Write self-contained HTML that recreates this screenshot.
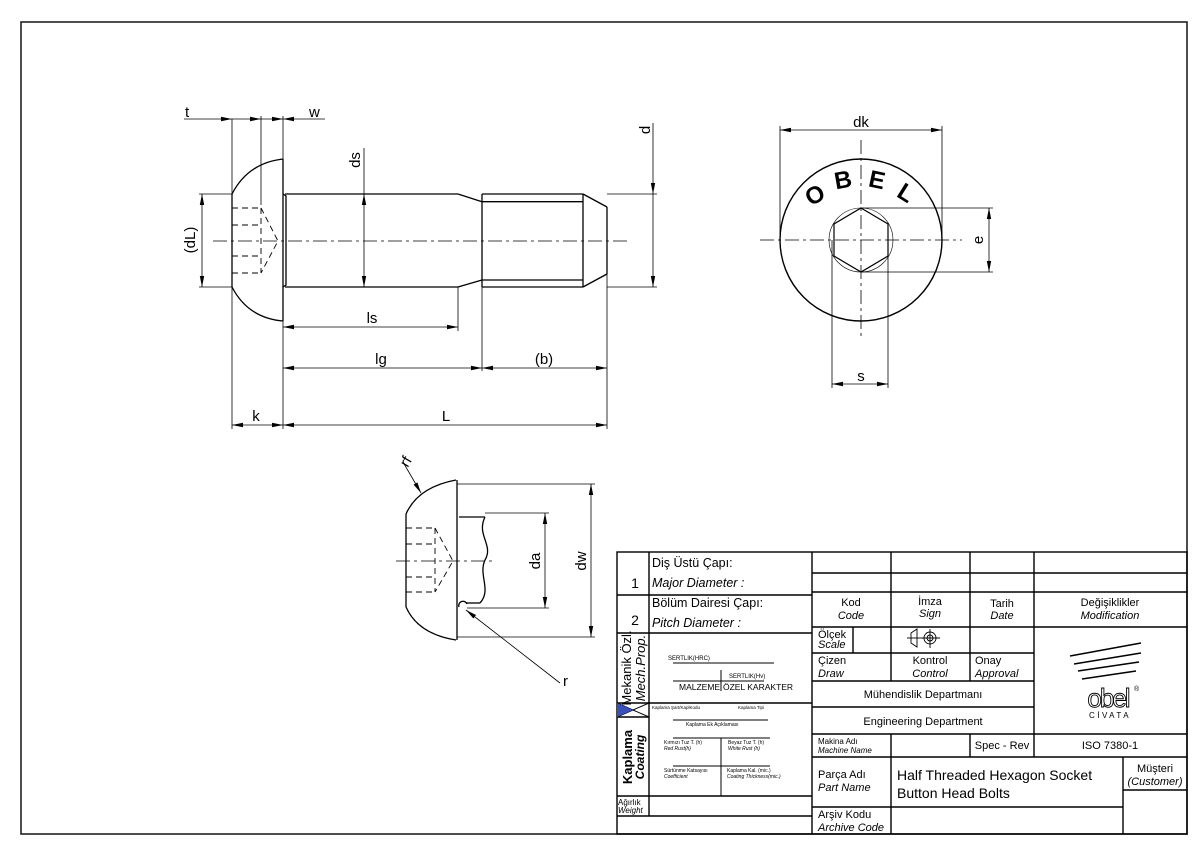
<!DOCTYPE html>
<html><head><meta charset="utf-8"><style>
html,body{margin:0;padding:0;background:#fff;}
svg{display:block;font-family:"Liberation Sans",sans-serif;}
</style></head><body>
<svg width="1200" height="849" viewBox="0 0 1200 849" xmlns="http://www.w3.org/2000/svg">
<defs>
<marker id="a" markerUnits="userSpaceOnUse" markerWidth="12" markerHeight="6" refX="11" refY="3" orient="auto-start-reverse"><path d="M0,0.8 L11,3 L0,5.2 Z" fill="#000"/></marker>
</defs>
<rect x="0" y="0" width="1200" height="849" fill="#fff"/>
<rect x="21" y="22" width="1166" height="812" fill="none" stroke="#222" stroke-width="1.6"/>

<!-- ============ SIDE VIEW ============ -->
<g stroke="#000" fill="none" stroke-width="1.3">
<path d="M232,194 Q248,163 283,159"/>
<path d="M232,287 Q248,318 283,321"/>
<line x1="232" y1="194" x2="232" y2="287"/>
<line x1="283" y1="159" x2="283" y2="321"/>
<path d="M283,194 L286,196 L286,285 L283,287"/>
<line x1="285" y1="194" x2="458" y2="194"/>
<line x1="285" y1="287" x2="458" y2="287"/>
<line x1="458" y1="194" x2="482" y2="201.7"/>
<line x1="458" y1="287" x2="482" y2="280"/>
<line x1="482" y1="194" x2="583" y2="194"/>
<line x1="482" y1="287" x2="583" y2="287"/>
<line x1="482" y1="201.7" x2="583" y2="201.7"/>
<line x1="482" y1="280" x2="583" y2="280"/>
<line x1="482" y1="194" x2="482" y2="287"/>
<line x1="583" y1="194" x2="583" y2="287"/>
<line x1="583" y1="194" x2="607" y2="207"/>
<line x1="583" y1="287" x2="607" y2="274"/>
<line x1="607" y1="207" x2="607" y2="274"/>
</g>
<g stroke="#000" fill="none" stroke-width="0.9" stroke-dasharray="6,4">
<line x1="232" y1="208" x2="261" y2="208"/>
<line x1="232" y1="225" x2="261" y2="225"/>
<line x1="232" y1="256" x2="261" y2="256"/>
<line x1="232" y1="273" x2="261" y2="273"/>
<line x1="261" y1="208" x2="261" y2="273"/>
<polyline points="261,208 278,241 261,273"/>
</g>
<line x1="213" y1="241" x2="627" y2="241" stroke="#000" stroke-width="0.8" stroke-dasharray="14,4,3,4"/>
<g stroke="#000" fill="none" stroke-width="0.8">
<line x1="232" y1="119" x2="232" y2="429"/>
<line x1="261" y1="116" x2="261" y2="205"/>
<line x1="283" y1="116" x2="283" y2="429"/>
<line x1="184" y1="119" x2="232" y2="119" marker-end="url(#a)"/>
<line x1="232" y1="119" x2="261" y2="119" marker-end="url(#a)"/>
<line x1="325" y1="119" x2="283" y2="119" marker-end="url(#a)"/>
<line x1="261" y1="119" x2="283" y2="119" marker-end="url(#a)"/>
<line x1="199" y1="194" x2="232" y2="194"/>
<line x1="199" y1="287" x2="232" y2="287"/>
<line x1="202" y1="194" x2="202" y2="287" marker-start="url(#a)" marker-end="url(#a)"/>
<line x1="364" y1="148" x2="364" y2="194"/>
<line x1="364" y1="194" x2="364" y2="287" marker-start="url(#a)" marker-end="url(#a)"/>
<line x1="607" y1="194" x2="657" y2="194"/>
<line x1="607" y1="287" x2="657" y2="287"/>
<line x1="653" y1="123" x2="653" y2="194" marker-end="url(#a)"/>
<line x1="653" y1="194" x2="653" y2="287" marker-end="url(#a)"/>
<line x1="458" y1="287" x2="458" y2="331"/>
<line x1="482" y1="287" x2="482" y2="371"/>
<line x1="607" y1="274" x2="607" y2="429"/>
<line x1="283" y1="327" x2="458" y2="327" marker-start="url(#a)" marker-end="url(#a)"/>
<line x1="283" y1="368" x2="482" y2="368" marker-start="url(#a)" marker-end="url(#a)"/>
<line x1="482" y1="368" x2="607" y2="368" marker-start="url(#a)" marker-end="url(#a)"/>
<line x1="232" y1="425" x2="283" y2="425" marker-start="url(#a)" marker-end="url(#a)"/>
<line x1="283" y1="425" x2="607" y2="425" marker-start="url(#a)" marker-end="url(#a)"/>
</g>
<g font-size="15" fill="#000">
<text x="185" y="117">t</text>
<text x="309" y="117">w</text>
<text x="195" y="240" transform="rotate(-90 195 240)" text-anchor="middle">(dL)</text>
<text x="360" y="160" transform="rotate(-90 360 160)" text-anchor="middle">ds</text>
<text x="650" y="130" transform="rotate(-90 650 130)" text-anchor="middle">d</text>
<text x="372" y="323" text-anchor="middle">ls</text>
<text x="381" y="364" text-anchor="middle">lg</text>
<text x="544" y="364" text-anchor="middle">(b)</text>
<text x="256" y="421" text-anchor="middle">k</text>
<text x="446" y="421" text-anchor="middle">L</text>
</g>

<!-- ============ END VIEW ============ -->
<g stroke="#000" fill="none">
<circle cx="861" cy="240" r="81" stroke-width="1.4"/>
<circle cx="861" cy="240" r="32" stroke-width="0.6"/>
<polygon points="861,208 888,224 888,256 861,272 834,256 834,224" stroke-width="1.2"/>
</g>
<g stroke="#000" stroke-width="0.8" stroke-dasharray="14,4,3,4">
<line x1="760" y1="240" x2="962" y2="240"/>
<line x1="861" y1="140" x2="861" y2="340"/>
</g>
<g stroke="#000" stroke-width="0.8" fill="none">
<line x1="780" y1="126" x2="780" y2="240"/>
<line x1="942" y1="126" x2="942" y2="240"/>
<line x1="780" y1="130" x2="942" y2="130" marker-start="url(#a)" marker-end="url(#a)"/>
<line x1="861" y1="208" x2="993" y2="208"/>
<line x1="861" y1="272" x2="993" y2="272"/>
<line x1="989" y1="208" x2="989" y2="272" marker-start="url(#a)" marker-end="url(#a)"/>
<line x1="832" y1="240" x2="832" y2="388"/>
<line x1="888" y1="240" x2="888" y2="388"/>
<line x1="832" y1="384" x2="888" y2="384" marker-start="url(#a)" marker-end="url(#a)"/>
</g>
<g font-size="15" fill="#000">
<text x="861" y="127" text-anchor="middle">dk</text>
<text x="983" y="240" transform="rotate(-90 983 240)" text-anchor="middle">e</text>
<text x="861" y="381" text-anchor="middle">s</text>
</g>
<g font-size="24" font-weight="bold" fill="#000" text-anchor="middle">
<text x="815" y="203" transform="rotate(-28 815 195)">O</text>
<text x="843" y="188" transform="rotate(-10 843 180)">B</text>
<text x="877" y="188" transform="rotate(12 877 180)">E</text>
<text x="906" y="201" transform="rotate(32 906 193)">L</text>
</g>

<!-- ============ DETAIL VIEW ============ -->
<g stroke="#000" fill="none" stroke-width="1.3">
<path d="M406,514 Q418,487 456,480"/>
<path d="M406,607 Q418,634 456,640"/>
<line x1="406" y1="514" x2="406" y2="607"/>
<line x1="457" y1="480" x2="457" y2="640"/>
<line x1="459" y1="517" x2="485" y2="517"/>
<path d="M485,517 C476,535 494,545 485,560 C478,575 492,590 480,603"/>
<line x1="466" y1="603" x2="480" y2="603"/>
<path d="M459,607 A4,4 0 0 1 467,604"/>
</g>
<g stroke="#000" fill="none" stroke-width="0.9" stroke-dasharray="6,4">
<line x1="406" y1="528" x2="435" y2="528"/>
<line x1="406" y1="544" x2="435" y2="544"/>
<line x1="406" y1="577" x2="435" y2="577"/>
<line x1="406" y1="592" x2="435" y2="592"/>
<line x1="435" y1="528" x2="435" y2="592"/>
<polyline points="435,528 453,561 435,592"/>
</g>
<line x1="396" y1="561" x2="494" y2="561" stroke="#000" stroke-width="0.8" stroke-dasharray="14,4,3,4"/>
<g stroke="#000" stroke-width="0.8" fill="none">
<line x1="485" y1="513" x2="549" y2="513"/>
<line x1="467" y1="608" x2="549" y2="608"/>
<line x1="545" y1="513" x2="545" y2="608" marker-start="url(#a)" marker-end="url(#a)"/>
<line x1="457" y1="484" x2="595" y2="484"/>
<line x1="457" y1="637" x2="595" y2="637"/>
<line x1="591" y1="484" x2="591" y2="637" marker-start="url(#a)" marker-end="url(#a)"/>
<line x1="403" y1="462" x2="421" y2="493" marker-end="url(#a)"/>
<line x1="560" y1="683" x2="466" y2="610" marker-end="url(#a)"/>
</g>
<g font-size="15" fill="#000">
<text x="540" y="561" transform="rotate(-90 540 561)" text-anchor="middle">da</text>
<text x="586" y="561" transform="rotate(-90 586 561)" text-anchor="middle">dw</text>
<text x="410" y="464" transform="rotate(-60 410 464)" text-anchor="middle">rf</text>
<text x="563" y="686">r</text>
</g>

<!-- ============ TITLE BLOCK ============ -->
<g stroke="#000" fill="none" stroke-width="1.4">
<rect x="617" y="552" width="570" height="282"/>
<line x1="812" y1="552" x2="812" y2="834"/>
<line x1="649" y1="552" x2="649" y2="816"/>
<line x1="617" y1="595" x2="812" y2="595"/>
<line x1="617" y1="633" x2="812" y2="633"/>
<line x1="617" y1="703" x2="812" y2="703"/>
<line x1="617" y1="717" x2="649" y2="717"/>
<line x1="617" y1="796" x2="812" y2="796"/>
<line x1="617" y1="816" x2="812" y2="816"/>
<line x1="812" y1="573" x2="1187" y2="573"/>
<line x1="812" y1="592" x2="1187" y2="592"/>
<line x1="812" y1="627" x2="1187" y2="627"/>
<line x1="812" y1="653" x2="1034" y2="653"/>
<line x1="812" y1="681" x2="1034" y2="681"/>
<line x1="812" y1="707" x2="1034" y2="707"/>
<line x1="812" y1="734" x2="1187" y2="734"/>
<line x1="812" y1="757" x2="1187" y2="757"/>
<line x1="812" y1="807" x2="1123" y2="807"/>
<line x1="1123" y1="790" x2="1187" y2="790"/>
<line x1="891" y1="552" x2="891" y2="681"/>
<line x1="970" y1="552" x2="970" y2="681"/>
<line x1="1034" y1="552" x2="1034" y2="757"/>
<line x1="853" y1="627" x2="853" y2="653"/>
<line x1="891" y1="734" x2="891" y2="834"/>
<line x1="970" y1="734" x2="970" y2="757"/>
<line x1="1123" y1="757" x2="1123" y2="834"/>
</g>
<g stroke="#000" stroke-width="1" fill="none">
<line x1="673" y1="663" x2="774" y2="663"/>
<line x1="673" y1="681" x2="764" y2="681"/>
<line x1="721" y1="670" x2="721" y2="691"/>
<line x1="673" y1="720" x2="768" y2="720"/>
<line x1="673" y1="738" x2="770" y2="738"/>
<line x1="673" y1="766" x2="770" y2="766"/>
<line x1="721" y1="738" x2="721" y2="796"/>
<line x1="617" y1="703" x2="649" y2="717"/>
<line x1="617" y1="717" x2="649" y2="703"/>
</g>
<polygon points="617,703 633,710 617,717" fill="#3a4fb8"/>
<g stroke="#000" stroke-width="0.9" fill="none">
<path d="M911,633 L917,629 L917,647 L911,643 Z"/>
<line x1="907" y1="638" x2="921" y2="638"/>
<circle cx="930" cy="638" r="6"/><circle cx="930" cy="638" r="3"/>
<line x1="921" y1="638" x2="940" y2="638"/><line x1="930" y1="629" x2="930" y2="648"/>
</g>
<g fill="#000" font-size="11">
<text x="652" y="567" font-size="12.5">Diş Üstü Çapı:</text>
<text x="652" y="587" font-size="12.5" font-style="italic">Major Diameter :</text>
<text x="635" y="588" font-size="14" text-anchor="middle">1</text>
<text x="652" y="607" font-size="12.5">Bölüm Dairesi Çapı:</text>
<text x="652" y="627" font-size="12.5" font-style="italic">Pitch Diameter :</text>
<text x="635" y="625" font-size="14" text-anchor="middle">2</text>
<text x="631" y="668" font-size="13" transform="rotate(-90 631 668)" text-anchor="middle">Mekanik Özl.</text>
<text x="645" y="668" font-size="13" font-style="italic" transform="rotate(-90 645 668)" text-anchor="middle">Mech.Prop.</text>
<text x="632" y="757" font-size="13" font-weight="bold" transform="rotate(-90 632 757)" text-anchor="middle">Kaplama</text>
<text x="644" y="757" font-size="12" font-weight="bold" font-style="italic" transform="rotate(-90 644 757)" text-anchor="middle">Coating</text>
<text x="618" y="805" font-size="8">Ağırlık</text>
<text x="618" y="813" font-size="8" font-style="italic">Weight</text>
<text x="668" y="660" font-size="6">SERTLIK(HRC)</text>
<text x="729" y="678" font-size="6">SERTLIK(Hv)</text>
<text x="679" y="690" font-size="8.5">MALZEME</text>
<text x="723" y="690" font-size="8.5">ÖZEL KARAKTER</text>
<text x="652" y="709" font-size="4.5">Kaplama Şart/KaplKodu</text>
<text x="738" y="709" font-size="4.5">Kaplama Tipi</text>
<text x="686" y="726" font-size="5">Kaplama Ek Açıklaması</text>
<text x="664" y="744" font-size="5">Kırmızı Tuz T. (h)</text>
<text x="664" y="750" font-size="5" font-style="italic">Red Rust(h)</text>
<text x="728" y="744" font-size="5">Beyaz Tuz T. (h)</text>
<text x="728" y="750" font-size="5" font-style="italic">White Rust (h)</text>
<text x="664" y="772" font-size="5">Sürtünme Katsayısı</text>
<text x="664" y="778" font-size="5" font-style="italic">Coefficient</text>
<text x="727" y="772" font-size="5">Kaplama Kal. (mic.)</text>
<text x="727" y="778" font-size="5" font-style="italic">Coating Thickness(mic.)</text>
<text x="851" y="606" text-anchor="middle">Kod</text>
<text x="851" y="619" text-anchor="middle" font-style="italic">Code</text>
<text x="930" y="605" text-anchor="middle">İmza</text>
<text x="930" y="617" text-anchor="middle" font-style="italic">Sign</text>
<text x="1002" y="607" text-anchor="middle">Tarih</text>
<text x="1002" y="619" text-anchor="middle" font-style="italic">Date</text>
<text x="1110" y="606" text-anchor="middle">Değişiklikler</text>
<text x="1110" y="619" text-anchor="middle" font-style="italic">Modification</text>
<text x="818" y="638">Ölçek</text>
<text x="818" y="648" font-style="italic">Scale</text>
<text x="818" y="664">Çizen</text>
<text x="818" y="677" font-style="italic">Draw</text>
<text x="930" y="664" text-anchor="middle">Kontrol</text>
<text x="930" y="677" text-anchor="middle" font-style="italic">Control</text>
<text x="975" y="664">Onay</text>
<text x="975" y="677" font-style="italic">Approval</text>
<text x="923" y="698" text-anchor="middle">Mühendislik Departmanı</text>
<text x="923" y="725" text-anchor="middle">Engineering Department</text>
<text x="818" y="744" font-size="8">Makina Adı</text>
<text x="818" y="753" font-size="8" font-style="italic">Machine Name</text>
<text x="1002" y="749" text-anchor="middle">Spec - Rev</text>
<text x="1110" y="749" text-anchor="middle">ISO 7380-1</text>
<text x="818" y="778">Parça Adı</text>
<text x="818" y="791" font-style="italic">Part Name</text>
<text x="897" y="780" font-size="14">Half Threaded Hexagon Socket</text>
<text x="897" y="798" font-size="14">Button Head Bolts</text>
<text x="1155" y="772" text-anchor="middle">Müşteri</text>
<text x="1155" y="785" text-anchor="middle" font-style="italic">(Customer)</text>
<text x="818" y="818">Arşiv Kodu</text>
<text x="818" y="831" font-style="italic">Archive Code</text>
</g>
<g stroke="#000" stroke-width="1.5" fill="none">
<line x1="1070" y1="656" x2="1141" y2="643"/>
<line x1="1074" y1="664" x2="1141" y2="653"/>
<line x1="1078" y1="671" x2="1139" y2="662"/>
<line x1="1082" y1="679" x2="1136" y2="671"/>
</g>
<text x="1108" y="707" font-size="26" text-anchor="middle" fill="none" stroke="#000" stroke-width="0.9" letter-spacing="-2">obel</text>
<text x="1134" y="691" font-size="7" fill="#000">®</text>
<text x="1110" y="718" font-size="8" text-anchor="middle" fill="#000" letter-spacing="2.5">CİVATA</text>
</svg>
</body></html>
